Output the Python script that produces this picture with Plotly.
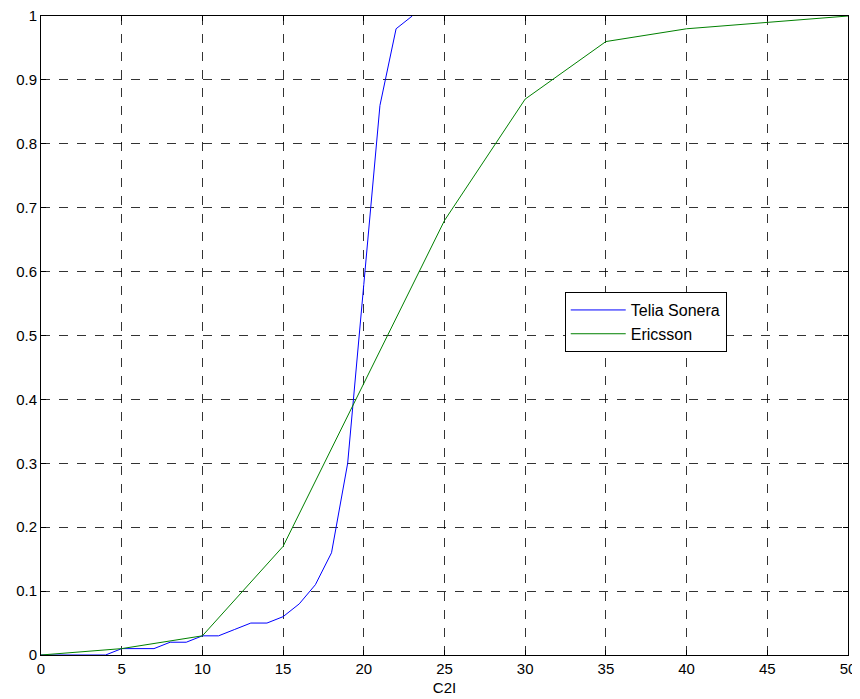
import plotly.graph_objects as go

telia_x = list(range(0, 24))
telia_y = [0, 0, 0, 0, 0, 0.01, 0.01, 0.01, 0.02, 0.02, 0.03, 0.03, 0.04, 0.05,
           0.05, 0.06, 0.08, 0.11, 0.16, 0.30, 0.58, 0.86, 0.98, 1.0]
eric_x = [0, 5, 10, 15, 25, 30, 35, 40, 45, 50]
eric_y = [0, 0.01, 0.03, 0.17, 0.68, 0.87, 0.96, 0.98, 0.99, 1.0]

x_ticks = list(range(0, 51, 5))
y_ticks = [round(i * 0.1, 1) for i in range(11)]
y_labels = ["0", "0.1", "0.2", "0.3", "0.4", "0.5", "0.6", "0.7", "0.8", "0.9", "1"]

FONT = "Liberation Sans, Arial"

fig = go.Figure()
fig.add_trace(go.Scatter(x=telia_x, y=telia_y, mode="lines", name="Telia Sonera",
                         line=dict(color="#0000ff", width=1)))
fig.add_trace(go.Scatter(x=eric_x, y=eric_y, mode="lines", name="Ericsson",
                         line=dict(color="#008000", width=1)))

axis_common = dict(showline=True, linecolor="black", linewidth=1, mirror="ticks",
                   ticks="inside", ticklen=5, tickcolor="black", automargin=False,
                   ticklabeloverflow="allow",
                   showgrid=True, gridcolor="rgba(0,0,0,0.8)", griddash="dash", gridwidth=1,
                   zeroline=False, tickfont=dict(family=FONT, size=15, color="black"))

fig.update_xaxes(range=[0, 50], tickvals=x_ticks, ticktext=[str(v) for v in x_ticks],
                 title=dict(text="C2I", font=dict(family=FONT, size=15, color="black"), standoff=6),
                 **axis_common)
fig.update_yaxes(range=[0, 1], tickvals=y_ticks, ticktext=y_labels, **axis_common)

fig.update_layout(
    width=852, height=691,
    margin=dict(l=33, r=12, t=8, b=44),
    plot_bgcolor="white", paper_bgcolor="white",
    font=dict(family=FONT, size=15, color="black"),
    legend=dict(x=0.649, y=0.568, xanchor="left", yanchor="top",
                bgcolor="white", bordercolor="black", borderwidth=1,
                font=dict(family=FONT, size=16, color="black"),
                tracegroupgap=0, itemwidth=55),
    showlegend=True,
)

fig.write_html("out.html")
